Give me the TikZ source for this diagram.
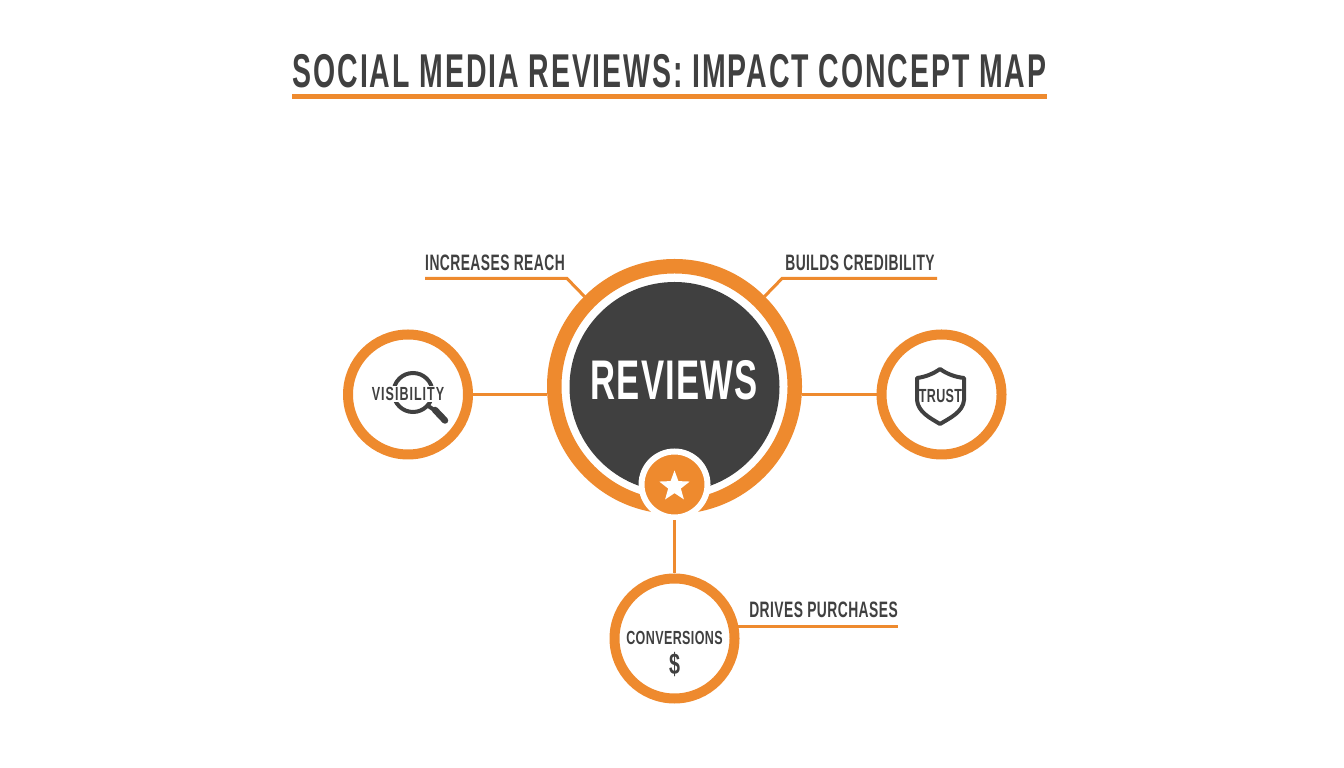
\documentclass[tikz,border=0pt]{standalone}
\usepackage{fontspec}
\setmainfont{Liberation Sans}[FakeStretch=0.62,LetterSpace=2]
\newfontfamily\titlefont{Liberation Sans}[FakeStretch=0.6,LetterSpace=4]
\newfontfamily\tagfont{Liberation Sans}[FakeStretch=0.66,LetterSpace=2]
\newfontfamily\widetagfont{Liberation Sans}[FakeStretch=0.66,LetterSpace=5.2]
\usetikzlibrary{shapes.geometric}
\definecolor{accent}{HTML}{EE8A2E}
\definecolor{ink}{HTML}{404040}
\tikzset{
	satellite/.style={circle, draw=accent, line width=0.2cm, minimum size=2.4cm, inner sep=0pt},
	link/.style={draw=accent, line width=0.07cm},
	leader/.style={draw=accent, line width=0.06cm},
	caption/.style={text=ink, font=\fontsize{12.7}{14}\selectfont\bfseries, inner sep=0pt},
	tag/.style={text=ink, font=\tagfont\fontsize{10.8}{12}\selectfont\bfseries, inner sep=0pt},
	icon/.style={draw=ink, line width=0.08cm}
}
\begin{document}
\begin{tikzpicture}
	\useasboundingbox (0, 0) rectangle (26.88, 15.36);

	\node[text=ink, font=\titlefont\fontsize{27}{29}\selectfont\bfseries, inner sep=0pt] (title) at (13.39, 13.94) {SOCIAL MEDIA REVIEWS: IMPACT CONCEPT MAP};
	\coordinate (ruleL) at (5.84, 13.43);
	\coordinate (ruleR) at (20.94, 13.43);
	\draw[draw=accent, line width=0.1cm] (ruleL) -- (ruleR);

	\node[circle, draw=accent, line width=0.29cm, minimum size=4.81cm, inner sep=0pt] (reviews) at (13.49, 7.63) {};
	\node[circle, fill=ink, minimum size=4.2cm, inner sep=0pt] (core) at (13.49, 7.62) {};
	\node[text=white, font=\fontsize{31.8}{34}\selectfont\bfseries, inner sep=0pt] (corelabel) at (13.48, 7.76) {REVIEWS};

	\node[circle, draw=white, fill=accent, line width=0.12cm, minimum size=1.32cm, inner sep=0pt] (badge) at (13.49, 5.67) {};
	\node[star, star points=5, star point ratio=2.4, fill=white, minimum size=0.64cm, inner sep=0pt] (badgestar) at (13.49, 5.63) {};

	\node[satellite] (visibility) at (8.16, 7.47) {};
	\node[satellite] (trust) at (18.83, 7.47) {};
	\node[satellite] (conversions) at (13.49, 2.59) {};

	\draw[link] (visibility.east) -- (visibility.east -| reviews.west);
	\draw[link] (trust.west) -- (trust.west -| reviews.east);
	\draw[link] (badge.south) -- (conversions.north);

	\draw[icon] (8.26, 7.51) circle (0.39);
	\draw[icon] (8.55, 7.25) -- (8.73, 7.13);
	\draw[draw=ink, line width=0.13cm, line cap=round] (8.7, 7.16) -- (8.9, 6.95);
	\node[tag, font=\widetagfont\fontsize{10.8}{12}\selectfont\bfseries, fill=white, inner ysep=1pt] (visibilitylabel) at (8.16, 7.48) {VISIBILITY};

	\draw[icon, line join=round] (18.8, 7.98) .. controls (18.66, 7.88) and (18.5, 7.82) .. (18.34, 7.8) -- (18.34, 7.36) .. controls (18.36, 7.12) and (18.6, 7.0) .. (18.8, 6.88) .. controls (19.0, 7.0) and (19.26, 7.12) .. (19.28, 7.36) -- (19.28, 7.8) .. controls (19.1, 7.82) and (18.94, 7.88) .. (18.8, 7.98) -- cycle;
	\node[tag] (trustlabel) at (18.81, 7.44) {TRUST};

	\node[tag] (conversionslabel) at (13.49, 2.6) {CONVERSIONS};
	\node[text=ink, font=\tagfont\fontsize{17}{19}\selectfont\bfseries, inner sep=0pt] (dollar) at (13.49, 2.06) {\$};

	\node[caption] (reach) at (9.9, 10.1) {INCREASES REACH};
	\node[caption] (credibility) at (17.2, 10.1) {BUILDS CREDIBILITY};
	\node[caption] (purchases) at (16.47, 3.16) {DRIVES PURCHASES};

	\coordinate (reachend) at (8.5, 9.79);
	\coordinate (reachbend) at (11.34, 9.79);
	\coordinate (credend) at (18.74, 9.79);
	\coordinate (credbend) at (15.64, 9.79);
	\coordinate (buyend) at (17.95, 2.85);

	\draw[leader] (reachend) -- (reachbend) -- (reviews.135);
	\draw[leader] (credend) -- (credbend) -- (reviews.45);
	\draw[leader] (conversions.11.5) -- (conversions.11.5 -| buyend);

\end{tikzpicture}
\end{document}
